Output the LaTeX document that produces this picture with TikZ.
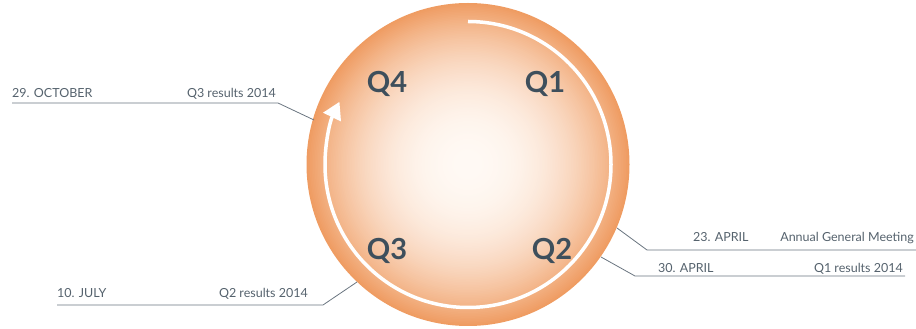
\documentclass[tikz,border=0pt]{standalone}
\usepackage{fontspec}
\setmainfont{Lato}
\usetikzlibrary{arrows.meta,calc}
\definecolor{txt}{HTML}{3E4F5C}
\definecolor{ln}{HTML}{6A7580}
\definecolor{lbl}{HTML}{55626D}
\definecolor{cCen}{HTML}{FFF9F4}
\definecolor{cEdge}{HTML}{EF9C62}
\tikzset{
  qlab/.style={font=\fontsize{29}{31}\selectfont\bfseries, text=txt, inner sep=0pt, anchor=base},
  small/.style={font=\fontsize{12.5}{14}\selectfont, text=lbl, inner sep=0pt},
  leader/.style={draw=ln, line width=0.8pt},
}
\begin{document}
\begin{tikzpicture}[x=1pt,y=1pt]
\useasboundingbox (0,0) rectangle (916,329);
\coordinate (c) at (468,164.5);
\foreach \i in {100,99,...,1}{
  \pgfmathsetmacro\w{100*(\i/100)^2.3}
  \fill[cEdge!\w!cCen] (c) circle ({161.5*\i/100});
}
\draw[white, line width=3.5pt, -{Triangle[width=19pt,length=17pt]}]
  ($(c)+(90:143)$) arc[start angle=90, end angle=-206, radius=143];
% Q labels
\node[qlab] (q4) at (387,236) {Q4};
\node[qlab] (q1) at (545,236) {Q1};
\node[qlab] (q3) at (387,69) {Q3};
\node[qlab] (q2) at (552,69) {Q2};
% October
\node[small, anchor=base west] (oct) at (12,231) {29. OCTOBER};
\node[small, anchor=base east] (q3r) at (276,231) {Q3 results 2014};
\coordinate (octA) at (12,226);
\coordinate (octB) at (278,226);
\coordinate (octC) at (314,209);
\draw[leader] (octA) -- (octB) -- (octC);
% 23 April
\node[small, anchor=base west] (apr23) at (693,87) {23. APRIL};
\node[small, anchor=base east] (agm) at (914,87) {Annual General Meeting};
\coordinate (agmA) at (916,79);
\coordinate (agmB) at (647,79);
\coordinate (agmC) at (617,101);
\draw[leader] (agmA) -- (agmB) -- (agmC);
% 30 April
\node[small, anchor=base west] (apr30) at (658,56) {30. APRIL};
\node[small, anchor=base east] (q1r) at (903,56) {Q1 results 2014};
\coordinate (q1A) at (905,53);
\coordinate (q1B) at (635,53);
\coordinate (q1C) at (601,72);
\draw[leader] (q1A) -- (q1B) -- (q1C);
% 10 July
\node[small, anchor=base west] (jul) at (57,31) {10. JULY};
\node[small, anchor=base east] (q2r) at (308,31) {Q2 results 2014};
\coordinate (julA) at (57,24);
\coordinate (julB) at (323,24);
\coordinate (julC) at (357,47);
\draw[leader] (julA) -- (julB) -- (julC);
\end{tikzpicture}
\end{document}
